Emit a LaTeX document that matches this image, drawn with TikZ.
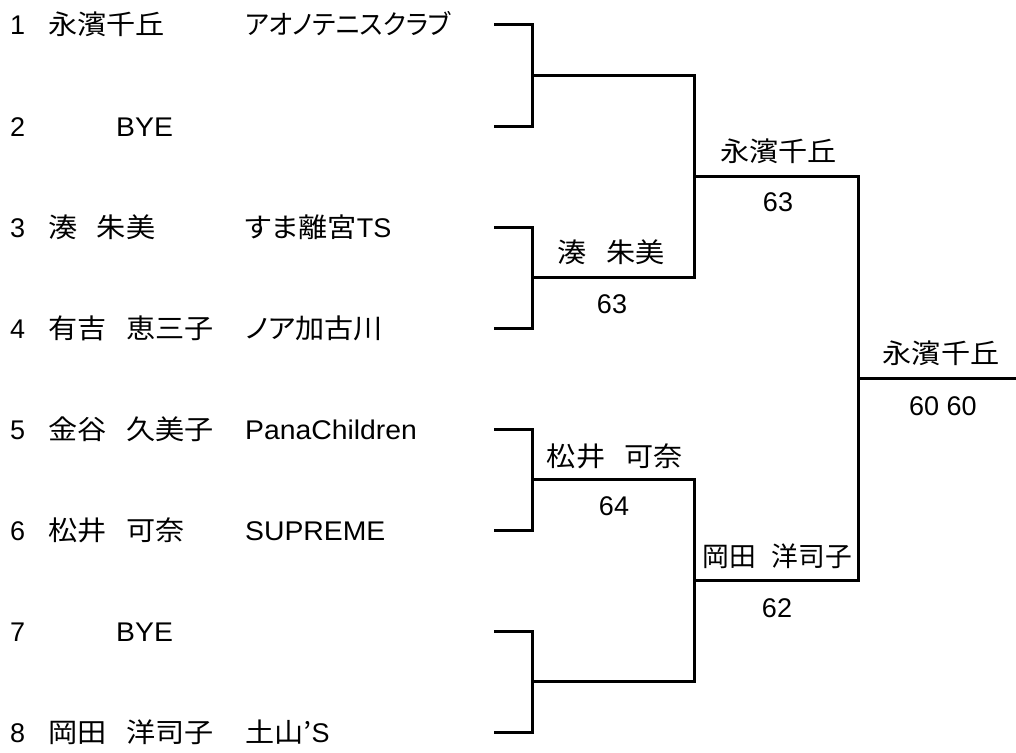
\documentclass[tikz,border=0pt]{standalone}
\usepackage{fontspec}
\setmainfont{Liberation Sans}
\newfontfamily\latw{Liberation Sans}[FakeStretch=1.05]
\newfontfamily\cjk{Noto Sans CJK JP}[FakeStretch=1.08, WordSpace=3.0]
\newfontfamily\cjks{Noto Sans CJK JP}[FakeStretch=0.99, WordSpace=2.6]
\newfontfamily\cjkp{Noto Sans CJK JP}[FakeStretch=1.08, RawFeature=+palt]
\newfontfamily\cjkn{Noto Sans CJK JP}[FakeStretch=0.95, RawFeature=+palt]
\begin{document}
\begin{tikzpicture}[x=1pt,y=-1pt,
  txt/.style={inner sep=0pt, anchor=base west, font=\fontsize{27}{32}\selectfont},
  lbl/.style={inner sep=0pt, anchor=base, font=\fontsize{27}{32}\selectfont},
  ln/.style={line width=3pt, line join=miter}]
\useasboundingbox (0,0) rectangle (1016,752);
% entry line ends
\coordinate (e1) at (494,25);
\coordinate (e2) at (494,126);
\coordinate (e3) at (494,227);
\coordinate (e4) at (494,328);
\coordinate (e5) at (494,429);
\coordinate (e6) at (494,530);
\coordinate (e7) at (494,631);
\coordinate (e8) at (494,732);
% first-round joins
\coordinate (p12) at (532,75.5);
\coordinate (p34) at (532,277.5);
\coordinate (p56) at (532,479.5);
\coordinate (p78) at (532,681.5);
% second-round joins
\coordinate (q1) at (694,176.5);
\coordinate (q2) at (694,580.5);
% final
\coordinate (f) at (858,378.5);
\coordinate (fend) at (1016,378.5);

\draw[ln] (e1) -| (p12) |- (e2);
\draw[ln] (e3) -| (p34) |- (e4);
\draw[ln] (e5) -| (p56) |- (e6);
\draw[ln] (e7) -| (p78) |- (e8);
\draw[ln] (p12) -| (q1) |- (p34);
\draw[ln] (p56) -| (q2) |- (p78);
\draw[ln] (q1) -| (f) |- (q2);
\draw[ln] (f) -- (fend);

% numbers
\node[txt] (n1) at (10,35) {1};
\node[txt] (n2) at (10,136) {2};
\node[txt] (n3) at (10,237) {3};
\node[txt] (n4) at (10,338) {4};
\node[txt] (n5) at (10,439) {5};
\node[txt] (n6) at (10,540) {6};
\node[txt] (n7) at (10,641) {7};
\node[txt] (n8) at (10,742) {8};
% names
\node[txt] (a1) at (48,35) {\cjk 永濱千丘};
\node[txt] (a2) at (116,136) {\latw BYE};
\node[txt] (a3) at (48,237) {\cjk 湊 朱美};
\node[txt] (a4) at (48,338) {\cjk 有吉 恵三子};
\node[txt] (a5) at (48,439) {\cjk 金谷 久美子};
\node[txt] (a6) at (48,540) {\cjk 松井 可奈};
\node[txt] (a7) at (116,641) {\latw BYE};
\node[txt] (a8) at (48,742) {\cjk 岡田 洋司子};
% clubs
\node[txt] (c1) at (245,35) {\cjkn アオノテニスクラブ};
\node[txt] (c3) at (245,237) {{\cjkp すま離宮}TS};
\node[txt] (c4) at (245,338) {\cjkp ノア加古川};
\node[txt] (c5) at (245,439) {\latw PanaChildren};
\node[txt] (c6) at (245,540) {\latw SUPREME};
\node[txt] (c8) at (245,742) {{\cjkp 土山’}S};
% winners and scores
\node[lbl] (w34) at (611,262.8) {\cjk 湊 朱美};
\node[lbl] (s34) at (612,313) {63};
\node[lbl] (w56) at (615,466) {\cjk 松井 可奈};
\node[lbl] (s56) at (614,515) {64};
\node[lbl] (wq1) at (778.5,161.8) {\cjk 永濱千丘};
\node[lbl] (sq1) at (778,211) {63};
\node[lbl] (wq2) at (777.5,566) {\cjks 岡田 洋司子};
\node[lbl] (sq2) at (777,617) {62};
\node[lbl] (wf) at (941,363) {\cjk 永濱千丘};
\node[lbl] (sf) at (943,415) {60 60};
\end{tikzpicture}
\end{document}
